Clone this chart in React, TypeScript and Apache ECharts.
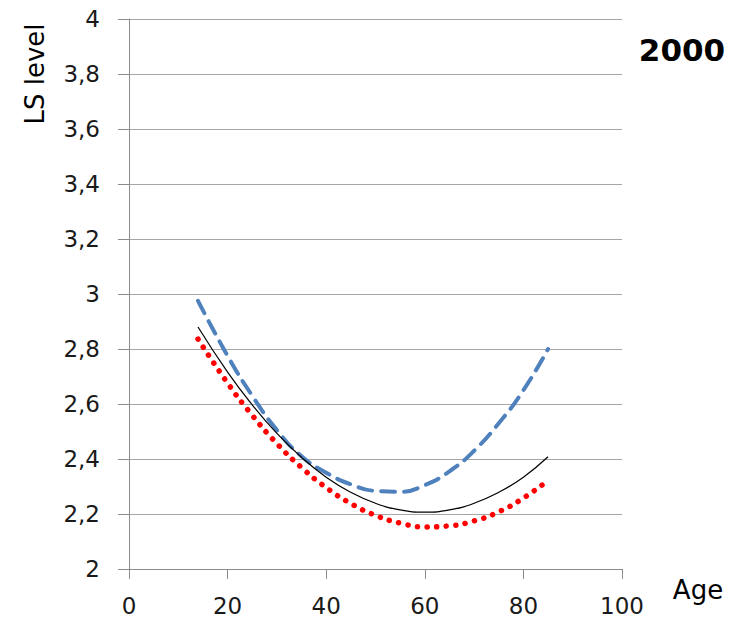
import React, { useEffect, useRef } from "react";
import * as echarts from "echarts";

const ages = [14, 20, 25, 30, 35, 40, 45, 50, 55, 60, 65, 70, 75, 80, 85];
const blackValues = [2.88, 2.716, 2.597, 2.493, 2.406, 2.334, 2.279, 2.239, 2.215, 2.207, 2.215, 2.239, 2.279, 2.334, 2.408];
const blueValues = [2.975, 2.775, 2.63, 2.505, 2.41, 2.35, 2.308, 2.284, 2.281, 2.305, 2.355, 2.43, 2.53, 2.65, 2.8];
const redValues = [2.836, 2.676, 2.559, 2.456, 2.369, 2.296, 2.238, 2.195, 2.167, 2.153, 2.157, 2.175, 2.208, 2.258, 2.322];

const yTitle = "LS level";
const xTitle = "Age";
const chartTitle = "2000";

const font = "'DejaVu Sans', 'Noto Sans', sans-serif";

function pairs(vals: number[]) {
  return ages.map((a, i) => [a, vals[i]]);
}

export default function App() {
  const ref = useRef<HTMLDivElement>(null);
  useEffect(() => {
    if (!ref.current) return;
    const chart = echarts.init(ref.current, null, { renderer: "svg" });
    chart.setOption({
      animation: false,
      backgroundColor: "#ffffff",
      grid: { left: 129, right: 111, top: 19, bottom: 50, containLabel: false },
      xAxis: {
        type: "value",
        min: 0,
        max: 100,
        interval: 20,
        axisLine: { show: true, lineStyle: { color: "#8c8c8c", width: 1 } },
        axisTick: { show: true, length: 10, inside: false, lineStyle: { color: "#8c8c8c" } },
        splitLine: { show: false },
        axisLabel: { color: "#1a1a1a", fontSize: 23, fontFamily: font, margin: 25 },
      },
      yAxis: {
        type: "value",
        min: 2,
        max: 4,
        interval: 0.2,
        axisLine: { show: true, lineStyle: { color: "#8c8c8c", width: 1 } },
        axisTick: { show: true, length: 11, inside: false, lineStyle: { color: "#8c8c8c" } },
        splitLine: { show: true, lineStyle: { color: "#a6a6a6", width: 1.2 } },
        axisLabel: {
          color: "#1a1a1a",
          fontSize: 23,
          fontFamily: font,
          margin: 29,
          formatter: (v: number) => {
            const r = Math.round(v * 10) / 10;
            return Number.isInteger(r) ? String(r) : r.toFixed(1).replace(".", ",");
          },
        },
      },
      graphic: [
        {
          type: "text",
          x: 35,
          y: 74,
          rotation: Math.PI / 2,
          style: {
            text: yTitle,
            fontSize: 26,
            fontFamily: font,
            fill: "#000",
            align: "center",
            verticalAlign: "middle",
          },
        },
        {
          type: "text",
          x: 698,
          y: 590,
          style: {
            text: xTitle,
            fontSize: 26,
            fontFamily: font,
            fill: "#000",
            align: "center",
            verticalAlign: "middle",
          },
        },
        {
          type: "text",
          x: 682,
          y: 50,
          style: {
            text: chartTitle,
            fontSize: 31,
            fontWeight: "bold",
            fontFamily: font,
            fill: "#000",
            align: "center",
            verticalAlign: "middle",
          },
        },
      ],
      series: [
        {
          type: "line",
          data: pairs(blueValues),
          smooth: true,
          showSymbol: false,
          symbol: "none",
          lineStyle: { color: "#4f81bd", width: 4, type: [14, 9], cap: "round" },
          z: 3,
        },
        {
          type: "line",
          data: pairs(blackValues),
          smooth: true,
          showSymbol: false,
          symbol: "none",
          lineStyle: { color: "#000000", width: 1.2 },
          z: 4,
        },
        {
          type: "line",
          data: pairs(redValues),
          smooth: true,
          showSymbol: false,
          symbol: "none",
          lineStyle: { color: "#ff0000", width: 5.5, type: [0.1, 9.5], cap: "round" },
          z: 2,
        },
      ],
    });
    return () => chart.dispose();
  }, []);
  return <div ref={ref} style={{ width: 733, height: 619, position: "absolute", left: 0, top: 0 }} />;
}
